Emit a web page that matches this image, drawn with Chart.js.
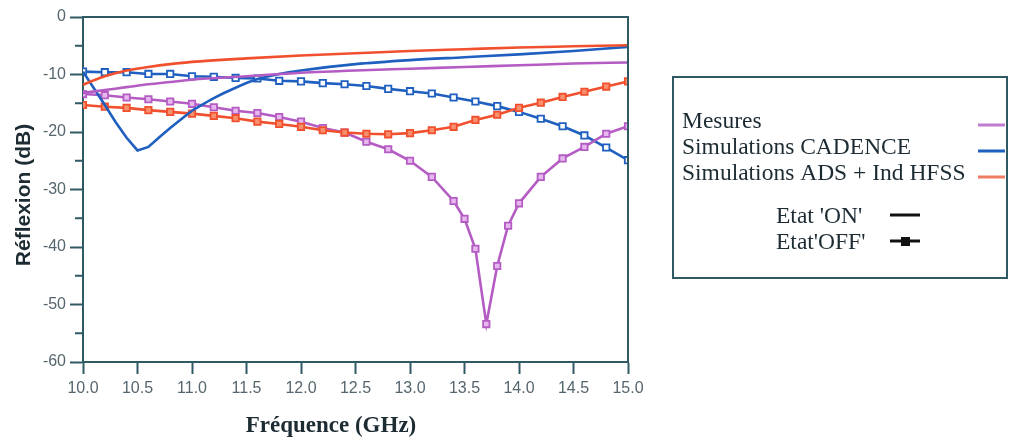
<!DOCTYPE html>
<html>
<head>
<meta charset="utf-8">
<title>Réflexion</title>
<script src="https://cdn.jsdelivr.net/npm/chart.js@4.4.0/dist/chart.umd.min.js"></script>
<style>
  html, body { margin: 0; padding: 0; background: #fff; }
  #chartCanvas { display: block; }
</style>
</head>
<body>
<canvas id="chartCanvas" width="1010" height="441"></canvas>
<script>
// Series names shown in the legend
const seriesNames = ["Mesures", "Simulations CADENCE", "Simulations ADS + Ind HFSS"];
const stateNames = ["Etat 'ON'", "Etat'OFF'"];

// Axis ticks
const xTicks = [10.0, 10.5, 11.0, 11.5, 12.0, 12.5, 13.0, 13.5, 14.0, 14.5, 15.0];
const yTicks = [0, -10, -20, -30, -40, -50, -60];
const yMinorTicks = [-5, -15, -25, -35, -45, -55];

// OFF state (square markers), sampled every 0.2 GHz
const freqOff = [10.0, 10.2, 10.4, 10.6, 10.8, 11.0, 11.2, 11.4, 11.6, 11.8, 12.0, 12.2, 12.4,
  12.6, 12.8, 13.0, 13.2, 13.4, 13.6, 13.8, 14.0, 14.2, 14.4, 14.6, 14.8, 15.0];
const cadenceOff = [-9.5, -9.6, -9.6, -9.9, -9.9, -10.3, -10.4, -10.6, -10.7, -11.1, -11.2, -11.5, -11.7,
  -12.0, -12.5, -12.9, -13.3, -14.0, -14.7, -15.5, -16.5, -17.7, -19.0, -20.6, -22.7, -24.9];
const adsOff = [-15.3, -15.6, -15.8, -16.2, -16.5, -16.8, -17.2, -17.6, -18.2, -18.6, -19.1, -19.7, -20.1,
  -20.3, -20.4, -20.2, -19.7, -19.1, -17.9, -17.0, -15.8, -14.9, -13.9, -13.0, -12.1, -11.2];

// Measured OFF state, denser around the resonance
const freqMesOff = [10.0, 10.2, 10.4, 10.6, 10.8, 11.0, 11.2, 11.4, 11.6, 11.8, 12.0, 12.2, 12.4, 12.6,
  12.8, 13.0, 13.2, 13.4, 13.5, 13.6, 13.7, 13.8, 13.9, 14.0, 14.2, 14.4, 14.6, 14.8, 15.0];
const mesOff = [-13.4, -13.6, -14.0, -14.3, -14.7, -15.1, -15.7, -16.3, -16.7, -17.4, -18.2, -19.3, -20.1, -21.7,
  -23.0, -25.0, -27.8, -32.0, -35.1, -40.3, -53.4, -43.3, -36.3, -32.4, -27.8, -24.6, -22.6, -20.3, -19.0];

// ON state (plain lines)
const freqMesOn = [10.0, 10.2, 10.4, 10.6, 10.8, 11.0, 11.5, 12.0, 12.5, 13.0, 13.5, 14.0, 14.5, 15.0];
const mesOn = [-13.2, -12.7, -12.2, -11.7, -11.3, -10.9, -10.3, -9.7, -9.3, -9.0, -8.7, -8.4, -8.1, -7.9];

// CADENCE ON: sharp dip part, then the smooth tail
const freqCadenceOnDip = [10.0, 10.1, 10.2, 10.3, 10.4, 10.5, 10.6, 10.7, 10.8, 10.9, 11.0];
const cadenceOnDip = [-9.5, -12.4, -15.3, -18.3, -21.0, -23.2, -22.6, -20.9, -19.3, -17.8, -16.3];
const freqCadenceOnTail = [11.0, 11.2, 11.4, 11.6, 11.8, 12.0, 12.5, 13.0, 13.5, 14.0, 14.5, 15.0];
const cadenceOnTail = [-16.3, -14.1, -12.3, -10.8, -9.9, -9.3, -8.2, -7.5, -7.0, -6.5, -5.9, -5.2];

const freqAdsOn = [10.0, 10.1, 10.2, 10.4, 10.6, 10.8, 11.0, 11.5, 12.0, 12.5, 13.0, 13.5, 14.0, 14.5, 15.0];
const adsOn = [-11.8, -11.0, -10.3, -9.3, -8.7, -8.2, -7.8, -7.2, -6.7, -6.3, -5.9, -5.6, -5.3, -5.1, -4.9];

// Colours
const purple = "#b45cc4";
const blue = "#1e5fbf";
const red = "#f0502e";
const axisColor = "#2f5a64";
const tickTextColor = "#56666f";
const textColor = "#1d2b33";

function toPoints(xs, ys) {
  return xs.map((x, i) => ({ x: x, y: ys[i] }));
}

function onLine(label, xs, ys, color, smooth) {
  const ds = {
    label: label,
    data: toPoints(xs, ys),
    borderColor: color,
    borderWidth: 2.6,
    pointRadius: 0,
    tension: smooth ? 0.4 : 0,
  };
  if (smooth) ds.cubicInterpolationMode = "monotone";
  return ds;
}

function offLine(label, xs, ys, color, fill) {
  return {
    label: label,
    data: toPoints(xs, ys),
    borderColor: color,
    borderWidth: 2.6,
    pointStyle: "rect",
    pointRadius: 4.5,
    pointBorderWidth: 1.8,
    pointBackgroundColor: fill,
    pointBorderColor: color,
    tension: 0,
  };
}

// Draws the frame, minor ticks, axis titles and the boxed legend
const decorPlugin = {
  id: "decor",
  afterDraw(chart) {
    const ctx = chart.ctx;
    const area = chart.chartArea;
    const yScale = chart.scales.y;
    ctx.save();

    // top and right frame
    ctx.strokeStyle = axisColor;
    ctx.lineWidth = 2;
    ctx.beginPath();
    ctx.moveTo(area.left - 1, area.top);
    ctx.lineTo(area.right, area.top);
    ctx.lineTo(area.right, area.bottom);
    ctx.stroke();

    // minor ticks on the y axis
    ctx.beginPath();
    yMinorTicks.forEach((v) => {
      const y = yScale.getPixelForValue(v);
      ctx.moveTo(area.left - 8, y);
      ctx.lineTo(area.left, y);
    });
    ctx.stroke();

    // axis titles
    ctx.fillStyle = textColor;
    ctx.textAlign = "center";
    ctx.textBaseline = "middle";
    ctx.font = "bold 23px 'Liberation Serif'";
    ctx.fillText("Fréquence (GHz)", 331, 426);
    ctx.save();
    ctx.translate(24, 195);
    ctx.rotate(-Math.PI / 2);
    ctx.font = "bold 21px 'Liberation Sans'";
    ctx.fillText("Réflexion (dB)", 0, 0);
    ctx.restore();

    // legend box
    ctx.strokeStyle = axisColor;
    ctx.lineWidth = 2;
    ctx.strokeRect(673, 77, 334, 201);

    ctx.font = "23.5px 'Liberation Serif'";
    ctx.textAlign = "left";
    const lineColors = ["#c07ad0", blue, "#f07a62"];
    seriesNames.forEach((name, i) => {
      const y = 122 + i * 26;
      ctx.fillStyle = textColor;
      ctx.fillText(name, 682, y);
      ctx.strokeStyle = lineColors[i];
      ctx.lineWidth = 3;
      ctx.beginPath();
      ctx.moveTo(978, y + 3);
      ctx.lineTo(1005, y + 3);
      ctx.stroke();
    });

    stateNames.forEach((name, i) => {
      const y = 217 + i * 26;
      ctx.fillStyle = textColor;
      ctx.fillText(name, 776, y);
      ctx.strokeStyle = "#111";
      ctx.lineWidth = 3;
      ctx.beginPath();
      ctx.moveTo(890, y - 2);
      ctx.lineTo(920, y - 2);
      ctx.stroke();
      if (i === 1) {
        ctx.fillStyle = "#111";
        ctx.fillRect(901, y - 6, 9, 9);
      }
    });

    ctx.restore();
  },
};

const ctx = document.getElementById("chartCanvas").getContext("2d");

const myChart = new Chart(ctx, {
  type: "line",
  data: {
    datasets: [
      onLine(seriesNames[0] + " ON", freqMesOn, mesOn, purple, true),
      onLine(seriesNames[2] + " ON", freqAdsOn, adsOn, red, true),
      onLine(seriesNames[1] + " ON", freqCadenceOnDip, cadenceOnDip, blue, false),
      onLine(seriesNames[1] + " ON (tail)", freqCadenceOnTail, cadenceOnTail, blue, true),
      offLine(seriesNames[2] + " OFF", freqOff, adsOff, red, "#f8906e"),
      offLine(seriesNames[0] + " OFF", freqMesOff, mesOff, purple, "#e6b8ee"),
      offLine(seriesNames[1] + " OFF", freqOff, cadenceOff, blue, "#ffffff"),
    ],
  },
  options: {
    responsive: false,
    animation: false,
    devicePixelRatio: 1,
    layout: {
      padding: { left: 0, right: 382, top: 17, bottom: 0 },
    },
    plugins: {
      legend: { display: false },
      tooltip: { enabled: false },
    },
    scales: {
      x: {
        type: "linear",
        min: 10,
        max: 15,
        afterBuildTicks: (scale) => {
          scale.ticks = xTicks.map((v) => ({ value: v }));
        },
        afterFit: (scale) => {
          scale.height = 79;
        },
        ticks: {
          callback: (value) => value.toFixed(1),
          color: tickTextColor,
          font: { family: "'Liberation Sans'", size: 16 },
          padding: 5,
          maxRotation: 0,
        },
        grid: {
          drawOnChartArea: false,
          drawTicks: true,
          tickLength: 12,
          tickColor: axisColor,
          tickWidth: 2,
        },
        border: { color: axisColor, width: 2 },
      },
      y: {
        type: "linear",
        min: -60,
        max: 0,
        afterBuildTicks: (scale) => {
          scale.ticks = yTicks.map((v) => ({ value: v }));
        },
        afterFit: (scale) => {
          scale.width = 83;
        },
        ticks: {
          color: tickTextColor,
          font: { family: "'Liberation Sans'", size: 16 },
          padding: 4,
        },
        grid: {
          drawOnChartArea: false,
          drawTicks: true,
          tickLength: 13,
          tickColor: axisColor,
          tickWidth: 2,
        },
        border: { color: axisColor, width: 2 },
      },
    },
  },
  plugins: [decorPlugin],
});
</script>
</body>
</html>
